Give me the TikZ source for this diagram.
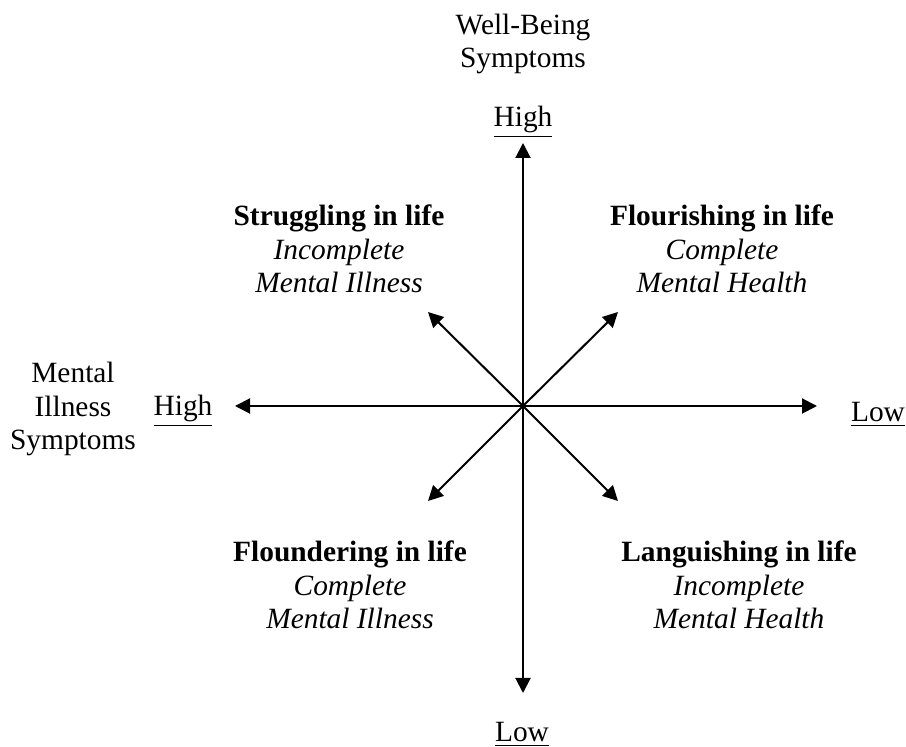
\documentclass[tikz,border=0pt]{standalone}
\usepackage{fontspec}
\setmainfont{Liberation Serif}
\usetikzlibrary{arrows.meta}
\begin{document}
\begin{tikzpicture}[x=0.5pt,y=-0.5pt,
  lbl/.style={inner sep=0pt,anchor=base,align=center,font=\fontsize{14.7}{16.75}\selectfont},
  axis/.style={line width=1pt,{Triangle[length=7.5pt,width=7.5pt]}-{Triangle[length=7.5pt,width=7.5pt]}},
  diag/.style={line width=1pt,-{Triangle[length=7.5pt,width=7.5pt]}}]
\useasboundingbox (0,0) rectangle (906,747);
\coordinate (C) at (523,406);
\coordinate (T) at (523,143);
\coordinate (B) at (523,693);
\coordinate (L) at (235,406);
\coordinate (R) at (817,406);
\coordinate (UL) at (428,312);
\coordinate (UR) at (618,312);
\coordinate (DL) at (428,501);
\coordinate (DR) at (618,501);
\draw[axis] (T) -- (B);
\draw[axis] (L) -- (R);
\draw[diag] (C) -- (UL);
\draw[diag] (C) -- (UR);
\draw[diag] (C) -- (DL);
\draw[diag] (C) -- (DR);
\node[lbl] (wb) at (523,68) {Well-Being\\Symptoms};
\node[lbl] (hiT) at (523,127) {\underline{High}};
\node[lbl] (loB) at (522,742) {\underline{Low}};
\node[lbl] (mi) at (73,450) {Mental\\Illness\\Symptoms};
\node[lbl] (hiL) at (183,416) {\underline{High}};
\node[lbl] (loR) at (878,422) {\underline{Low}};
\node[lbl] (str) at (339,293) {\textbf{Struggling in life}\\\textit{Incomplete}\\\textit{Mental Illness}};
\node[lbl] (flo) at (722,293) {\textbf{Flourishing in life}\\\textit{Complete}\\\textit{Mental Health}};
\node[lbl] (fld) at (350,629) {\textbf{Floundering in life}\\\textit{Complete}\\\textit{Mental Illness}};
\node[lbl] (lan) at (739,629) {\textbf{Languishing in life}\\\textit{Incomplete}\\\textit{Mental Health}};
\end{tikzpicture}
\end{document}
